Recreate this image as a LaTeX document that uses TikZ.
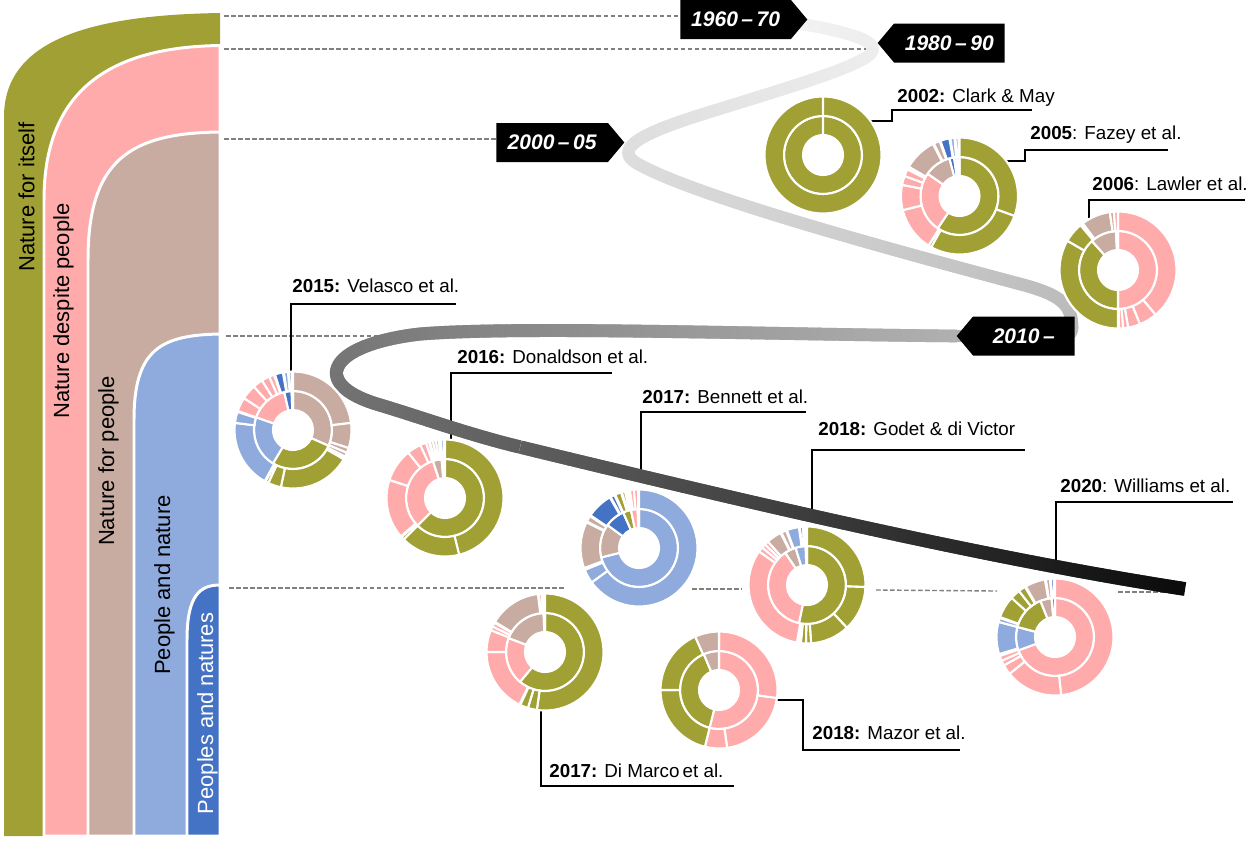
\documentclass[tikz,border=0pt]{standalone}
\usepackage{fontspec}
\setmainfont{Liberation Sans}
\usetikzlibrary{shapes.symbols, decorations.markings}
\definecolor{gr}{RGB}{160,160,53}
\definecolor{pk}{RGB}{255,171,171}
\definecolor{br}{RGB}{200,172,162}
\definecolor{lb}{RGB}{143,170,220}
\definecolor{db}{RGB}{68,114,196}

% one ring of a doughnut: centre, inner radius, outer radius, segments a/b/colour (clockwise from top)
\newcommand{\ringseg}[4]{%
  \foreach \a/\b/\c in {#4}
    \filldraw[fill=\c, draw=white, line width=1.2pt, shift={(#1)}]
      (90-\a:#2) arc[start angle=90-\a, end angle=90-\b, radius=#2]
      -- (90-\b:#3) arc[start angle=90-\b, end angle=90-\a, radius=#3] -- cycle;}
\newcommand{\donut}[3]{\ringseg{#1}{0.40cm}{0.78cm}{#2}\ringseg{#1}{0.78cm}{1.17cm}{#3}}

\begin{document}
\begin{tikzpicture}[
  x=0.02cm, y=-0.02cm,
  band/.style={draw=white, line width=1.7pt},
  bandlabel/.style={rotate=90, inner sep=0pt, font=\fontsize{12.5}{15}\selectfont},
  guide/.style={gray, line width=0.8pt, dash pattern=on 2.6pt off 1.4pt},
  callout/.style={line width=1.1pt},
  study/.style={inner sep=0pt, anchor=base west, font=\fontsize{10.7}{13}\selectfont},
  era/.style={shape=signal, fill=black, text=white, signal pointer angle=100,
    minimum height=0.78cm, inner sep=2pt, font=\bfseries\itshape\fontsize{12}{14}\selectfont},
  timeline/.style={decorate, decoration={markings,
    mark=between positions 0 and 1 step 0.5pt with {%
      \pgfmathsetmacro\rbfrac{\pgfkeysvalueof{/pgf/decoration/mark info/distance from start}/\pgfdecoratedpathlength}%
      \pgfmathsetmacro\rbshade{5+92*\rbfrac*(0.55+0.45*\rbfrac)}%
      \pgfmathsetmacro\rbhalf{3.4+0.5*\rbfrac}%
      \fill[black!\rbshade] (-0.45pt,-\rbhalf pt) rectangle (0.45pt,\rbhalf pt);}}}
]
\useasboundingbox (0,0) rectangle (1252,840);

% bands
\fill[gr] (4,836) -- (4,117) .. controls (4,40) and (90,15) .. (220,13) -- (220,836) -- cycle;
\filldraw[band, fill=pk] (44,836) -- (44,200) .. controls (44,90) and (110,47) .. (220,45.5) -- (220,836) -- cycle;
\filldraw[band, fill=br] (88,836) -- (88,260) .. controls (88,160) and (130,133) .. (220,132) -- (220,836) -- cycle;
\filldraw[band, fill=lb] (134,836) -- (134,420) .. controls (134,350) and (160,335) .. (220,334) -- (220,836) -- cycle;
\filldraw[band, fill=db] (187,836) -- (187,640) .. controls (187,595) and (200,585) .. (220,585) -- (220,836) -- cycle;
\node[bandlabel] (itself) at (26.5,197) {Nature for itself};
\node[bandlabel] (despite) at (63.4,311) {Nature despite people};
\node[bandlabel] (forpeople) at (108.4,461) {Nature for people};
\node[bandlabel] (andnature) at (164.4,585) {People and nature};
\node[bandlabel, text=white] (natures) at (207.4,713.5) {Peoples and natures};

% guide lines
\coordinate (gItself) at (224,16);
\coordinate (gDespite) at (224,49);
\coordinate (gForPeople) at (224,139);
\coordinate (gAndNature) at (226,336);
\coordinate (gNatures) at (229,588);
\draw[guide] (gItself) -- (680,16);
\draw[guide] (gDespite) -- (870,49);
\draw[guide] (gForPeople) -- (496,139);
\draw[guide] (gAndNature) -- (430,336);
\draw[guide] (gNatures) -- (565,588);
\draw[guide] (692,589) -- (742,589);
\draw[guide] (876,590) -- (997,591);
\draw[guide] (1118,592) -- (1167,592);

% doughnut centres
\coordinate (dClark) at (823,155);
\coordinate (dFazey) at (959.5,196);
\coordinate (dLawler) at (1118,270);
\coordinate (dVelasco) at (293,430);
\coordinate (dDonaldson) at (445,498);
\coordinate (dBennett) at (639,548);
\coordinate (dGodet) at (807,585);
\coordinate (dWilliams) at (1055,637);
\coordinate (dDiMarco) at (545,652);
\coordinate (dMazor) at (719,690);

% callouts
\draw[callout] (dClark) ++(47,-34) -- ++(22,0) -- ++(0,-11) -- ++(140,0);
\draw[callout] (dFazey) ++(45.5,-35) -- ++(20,0) -- ++(0,-11) -- ++(143,0);
\draw[callout] (dLawler) ++(-29,-52) -- ++(0,-18) -- ++(156,0);
\draw[callout] (dVelasco) ++(-2,-58) -- ++(0,-68) -- ++(165,0);
\draw[callout] (dDonaldson) ++(6,-57) -- ++(0,-68) -- ++(161,0);
\draw[callout] (dBennett) ++(2,-70) -- ++(0,-66) -- ++(165,0);
\draw[callout] (dGodet) ++(5,-70) -- ++(0,-65) -- ++(213,0);
\draw[callout] (dWilliams) ++(1,-75) -- ++(0,-60) -- ++(177,0);
\draw[callout] (dDiMarco) ++(-4,57) -- ++(0,77) -- ++(193,0);
\draw[callout] (dMazor) ++(57,10) -- ++(27,0) -- ++(0,50) -- ++(157,0);

% timeline
\path[timeline] (790,22) .. controls (840,30) and (880,40) .. (872,52)
  .. controls (864,66) and (780,90) .. (700,115)
  .. controls (640,134) and (610,150) .. (640,165)
  .. controls (700,198) and (900,252) .. (1020,284)
  .. controls (1062,295) and (1072,305) .. (1072,328)
  .. controls (1072,336) and (1065,336) .. (1050,336) -- (957,336)
  .. controls (750,334) and (520,326) .. (420,334)
  .. controls (325,345) and (310,385) .. (380,405)
  .. controls (420,417) and (470,435) .. (520,447)
  .. controls (800,515) and (1000,560) .. (1185,589);

% periods
\node[era, signal to=east, anchor=west, minimum width=2.54cm] (t1) at (680,19.5) {1960\,–\,70};
\node[era, signal to=west, anchor=east, minimum width=2.54cm] (t2) at (1005,43) {1980\,–\,90};
\node[era, signal to=east, anchor=west, minimum width=2.56cm] (t3) at (496,142.5) {2000\,–\,05};
\node[era, signal to=west, anchor=east, minimum width=2.36cm] (t4) at (1075,336) {2010\,–};

% doughnuts: inner ring, outer ring
\donut{dClark}{0/360/gr}{0/360/gr}
\donut{dFazey}{0/214/gr, 214/305/pk, 305/345/br, 345/352/db, 352/356/lb, 356/360/lb}
  {0/110/gr, 110/209/gr, 209/212/gr, 212/256/pk, 256/281/pk, 281/290/pk, 290/297/pk, 300/333/br, 334/340/br, 341/350/db, 351/355/lb, 356/359/lb}
\donut{dLawler}{0/180/pk, 180/318/gr, 318/357/br, 357/360/pk}
  {0/140/pk, 140/158/pk, 158/170/pk, 170/175/pk, 175/179/pk, 180/300/gr, 300/320/gr, 323/352/br, 352/356/br, 356/360/pk}
\donut{dVelasco}{0/114/br, 114/211/gr, 211/289/lb, 289/347/pk, 347/358/db, 358/360/lb}
  {0/83/br, 83/108/br, 108/113/br, 113/117/br, 120/192/gr, 192/205/gr, 205/208/gr, 209/277/lb, 277/288/lb, 289/303/pk, 303/318/pk, 318/328/pk, 328/336/pk, 336/341/pk, 342/350/db, 351/355/lb, 356/359/lb}
\donut{dDonaldson}{0/225/gr, 225/342/pk, 342/355/br, 355/358/lb}
  {0/166/gr, 166/225/gr, 225/228/gr, 229/288/pk, 288/321/pk, 321/335/pk, 335/341/pk, 341/344/pk, 345/348/br, 348/351/br, 351/354/br, 354/356/br, 356/359/lb}
\donut{dBennett}{0/256/lb, 256/306/br, 306/336/db, 336/348/gr, 348/358/pk, 358/360/pk}
  {0/234/lb, 234/248/lb, 250/296/br, 297/303/br, 304/330/db, 331/335/db, 336/342/gr, 343/346/gr, 347/349/gr, 351/355/pk, 355/359/pk}
\donut{dGodet}{0/192/gr, 192/326/pk, 326/343/br, 343/358/lb, 358/360/db}
  {0/92/gr, 92/137/gr, 137/176/gr, 176/181/gr, 181/186/gr, 190/305/pk, 305/310/pk, 310/314/pk, 314/318/pk, 318/333/br, 334/339/br, 340/352/lb, 353/356/db, 356/358/lb}
\donut{dWilliams}{0/250/pk, 250/285/lb, 285/338/gr, 338/355/br, 355/360/db}
  {0/174/pk, 174/231/pk, 231/241/pk, 241/246/pk, 246/251/pk, 253/285/lb, 285/289/lb, 290/312/gr, 312/322/gr, 322/329/gr, 330/350/br, 351/355/br, 356/359/db}
\donut{dDiMarco}{0/220/gr, 220/291/pk, 291/358/br, 358/360/pk}
  {0/188/gr, 188/197/gr, 197/205/gr, 206/270/pk, 270/292/pk, 292/296/pk, 296/300/pk, 301/353/br, 354/357/pk, 357/359/br}
\donut{dMazor}{0/194/pk, 194/337/gr, 337/360/br}
  {0/98/pk, 98/172/pk, 172/194/pk, 194/270/gr, 270/336/gr, 336/360/br}

% studies
\node[study] (sClark) at (897,102) {\textbf{2002:} Clark \& May};
\node[study] (sFazey) at (1030,139) {\textbf{2005}: Fazey et al.};
\node[study] (sLawler) at (1092,190) {\textbf{2006}: Lawler et al.};
\node[study] (sVelasco) at (292,292) {\textbf{2015:} Velasco et al.};
\node[study] (sDonaldson) at (457,363) {\textbf{2016:} Donaldson et al.};
\node[study] (sBennett) at (642,403) {\textbf{2017:} Bennett et al.};
\node[study] (sGodet) at (818,435) {\textbf{2018:} Godet \& di Victor};
\node[study] (sWilliams) at (1060,492) {\textbf{2020}: Williams et al.};
\node[study] (sDiMarco) at (549,777) {\textbf{2017:} Di Marco\,et al.};
\node[study] (sMazor) at (812,739) {\textbf{2018:} Mazor et al.};
\end{tikzpicture}
\end{document}
